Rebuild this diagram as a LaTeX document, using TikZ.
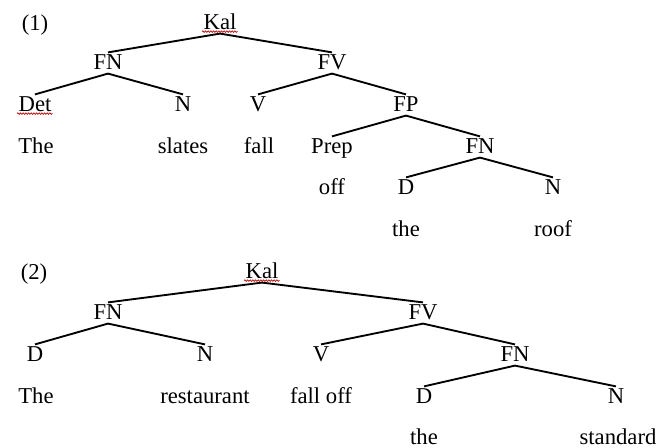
\documentclass[tikz,border=0pt]{standalone}
\usepackage{fontspec}
\setmainfont{Liberation Serif}
\usetikzlibrary{decorations.pathmorphing}

\tikzset{spellmark/.style={draw=red!75!black, line width=0.5pt,
                           decorate, decoration={snake, segment length=2pt, amplitude=0.6pt}}}

\begin{document}
\begin{tikzpicture}[x=0.75pt, y=-0.75pt,
                    every node/.style={inner sep=1pt, text height=11.5pt, text depth=2pt, font=\fontsize{17}{20}\selectfont},
                    every edge/.style={draw, line width=1.4pt, black}]
    \useasboundingbox (0,0) rectangle (672,448);

    % Tree (1)
    \node (ex1) at (35,24) {(1)}; % Example number
    \node (kalA) at (220,23) {Kal}; % Root node
    \node (fnA) at (108,63) {FN}; % Child of Kal
    \node (fvA) at (332,63) {FV}; % Child of Kal
    \node (detA) at (35,105) {Det}; % Child of FN
    \node (nA) at (183,105) {N}; % Child of FN
    \node (vA) at (258,105) {V}; % Child of FV
    \node (fpA) at (406,105) {FP}; % Child of FV
    \node (prepA) at (332,147) {Prep}; % Child of FP
    \node (fnB) at (480,147) {FN}; % Child of FP
    \node (dA) at (406,188) {D}; % Child of FN
    \node (nB) at (553,188) {N}; % Child of FN

    % Words
    \node (wThe) at (36,147) {The};
    \node (wSlates) at (183,147) {slates};
    \node (wFall) at (259,147) {fall};
    \node (wOff) at (332,188) {off};
    \node (wThe2) at (406,230) {the};
    \node (wRoof) at (553,230) {roof};

    % Define edges
    \path (kalA.south) edge (fnA.north);
    \path (kalA.south) edge (fvA.north);
    \path (fnA.south) edge (detA.north);
    \path (fnA.south) edge (nA.north);
    \path (fvA.south) edge (vA.north);
    \path (fvA.south) edge (fpA.north);
    \path (fpA.south) edge (prepA.north);
    \path (fpA.south) edge (fnB.north);
    \path (fnB.south) edge (dA.north);
    \path (fnB.south) edge (nB.north);

    % Spell-check underlines
    \path[spellmark] ([yshift=1.5pt]kalA.south west) -- ([yshift=1.5pt]kalA.south east);
    \path[spellmark] ([yshift=1.5pt]detA.south west) -- ([yshift=1.5pt]detA.south east);

    % Tree (2)
    \node (ex2) at (34,273) {(2)}; % Example number
    \node (kalB) at (262,272) {Kal}; % Root node
    \node (fnC) at (108,313) {FN}; % Child of Kal
    \node (fvB) at (423,313) {FV}; % Child of Kal
    \node (dB) at (35,355) {D}; % Child of FN
    \node (nC) at (205,355) {N}; % Child of FN
    \node (vB) at (321,355) {V}; % Child of FV
    \node (fnD) at (515,355) {FN}; % Child of FV
    \node (dC) at (424,397) {D}; % Child of FN
    \node (nD) at (616,397) {N}; % Child of FN

    % Words
    \node (wThe3) at (36,397) {The};
    \node (wRestaurant) at (205,397) {restaurant};
    \node (wFallOff) at (321,397) {fall off};
    \node (wThe4) at (424,438) {the};
    \node (wStandard) at (618,438) {standard};

    % Define edges
    \path (kalB.south) edge (fnC.north);
    \path (kalB.south) edge (fvB.north);
    \path (fnC.south) edge (dB.north);
    \path (fnC.south) edge (nC.north);
    \path (fvB.south) edge (vB.north);
    \path (fvB.south) edge (fnD.north);
    \path (fnD.south) edge (dC.north);
    \path (fnD.south) edge (nD.north);

    % Spell-check underline
    \path[spellmark] ([yshift=1.5pt]kalB.south west) -- ([yshift=1.5pt]kalB.south east);
\end{tikzpicture}
\end{document}
